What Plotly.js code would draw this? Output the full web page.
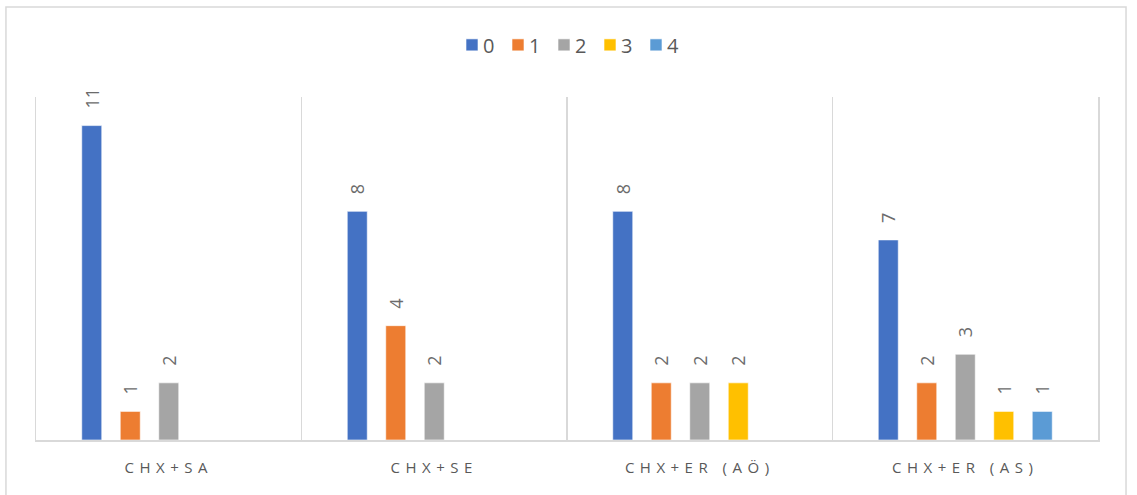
<!DOCTYPE html>
<html>
<head>
<meta charset="utf-8">
<script src="https://cdn.plot.ly/plotly-3.0.1.min.js"></script>
<style>
  html, body { margin: 0; padding: 0; background: #fff; }
  #chart { width: 1137px; height: 495px; }
  /* spaced-out category captions */
  #chart .xtick text { letter-spacing: 5.5px; }
  /* compact legend: caption sits close to its swatch, nothing clipped */
  #chart .legend .scrollbox { clip-path: none; }
  #chart .legend .legendtext { transform: translateX(-9px); }
</style>
</head>
<body>
<div id="chart"></div>
<script>
// Treatment groups on the x axis
const categories = ['CHX+SA', 'CHX+SE', 'CHX+ER (AÖ)', 'CHX+ER (AS)'];

// Counts per score (0–4); null where a group has no entry for that score
const score0 = [11, 8, 8, 7];
const score1 = [1, 4, 2, 2];
const score2 = [2, 2, 2, 3];
const score3 = [null, null, 2, 1];
const score4 = [null, null, null, 1];

const seriesNames = ['0', '1', '2', '3', '4'];
const seriesValues = [score0, score1, score2, score3, score4];
const seriesColors = ['#4472C4', '#ED7D31', '#A5A5A5', '#FFC000', '#5B9BD5'];

const labelFont = { family: 'Open Sans, Liberation Sans, sans-serif', size: 18, color: '#6b6b6b' };

const traces = seriesNames.map((name, i) => ({
  type: 'bar',
  name: name,
  x: categories,
  y: seriesValues[i],
  marker: { color: seriesColors[i], line: { color: '#ffffff', width: 0.6 } },
  text: seriesValues[i].map(v => (v === null ? '' : '\u00a0\u00a0\u00a0' + v)),
  textposition: 'outside',
  textangle: -90,
  constraintext: 'none',
  textfont: labelFont,
  cliponaxis: false,
  hoverinfo: 'x+y+name'
}));

const layout = {
  width: 1137,
  height: 495,
  margin: { l: 36, r: 39, t: 97, b: 55 },
  paper_bgcolor: '#ffffff',
  plot_bgcolor: '#ffffff',
  barmode: 'group',
  bargap: 0.275,
  bargroupgap: 0.48,
  showlegend: true,
  legend: {
    orientation: 'h',
    x: 0.5,
    xanchor: 'center',
    y: 1.152,
    yanchor: 'middle',
    entrywidth: 1,
    font: { family: 'Open Sans, Liberation Sans, sans-serif', size: 20, color: '#595959' },
    traceorder: 'normal'
  },
  xaxis: {
    type: 'category',
    range: [-0.5, 3.5],
    tickson: 'boundaries',
    showgrid: true,
    gridcolor: '#d9d9d9',
    gridwidth: 1.5,
    showline: true,
    linecolor: '#d9d9d9',
    linewidth: 2,
    ticks: '',
    ticklabelstandoff: 13,
    tickfont: { family: 'Open Sans, Liberation Sans, sans-serif', size: 15, color: '#595959' },
    fixedrange: true
  },
  yaxis: {
    range: [0, 12],
    showgrid: false,
    zeroline: false,
    showticklabels: false,
    showline: true,
    mirror: true,
    linecolor: '#d9d9d9',
    linewidth: 1.5,
    ticks: '',
    fixedrange: true
  },
  shapes: [{
    type: 'rect',
    xref: 'paper', yref: 'paper',
    x0: -0.0283, x1: 1.0264,
    y0: -0.2, y1: 1.2624,
    line: { color: '#d9d9d9', width: 1.5 },
    fillcolor: 'rgba(0,0,0,0)',
    layer: 'below'
  }]
};

Plotly.newPlot('chart', traces, layout, { displayModeBar: false, staticPlot: true });
</script>
</body>
</html>
